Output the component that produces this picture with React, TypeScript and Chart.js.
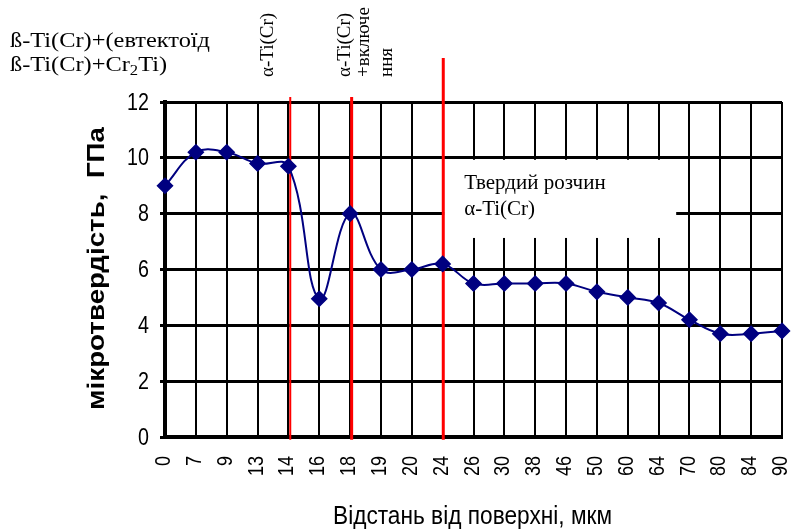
import React, { useEffect, useRef } from "react";
import { Chart, registerables } from "chart.js";
Chart.register(...registerables);

// ---- data ----
const distanceLabels = ["0", "7", "9", "13", "14", "16", "18", "19", "20", "24", "26", "30", "38", "46", "50", "60", "64", "70", "80", "84", "90"];
const hardnessValues = [9.0, 10.2, 10.2, 9.8, 9.7, 4.95, 8.0, 6.0, 6.0, 6.2, 5.5, 5.5, 5.5, 5.5, 5.2, 5.0, 4.8, 4.2, 3.7, 3.7, 3.8];
const yMin = 0;
const yMax = 12;
const yStep = 2;
// phase boundary lines (category index position, top value)
const boundaryIndex = [4.06, 6.05, 9.02];
const boundaryTop = [12.18, 12.18, 13.58];

const SANS = '"Liberation Sans", Arial, sans-serif';
const SERIF = '"Liberation Serif", "Times New Roman", serif';
const NARROW_K = 0.82;

function fitText(ctx: CanvasRenderingContext2D, text: string, x: number, y: number, width: number, font: string) {
  ctx.font = font;
  const w = ctx.measureText(text).width || 1;
  ctx.save();
  ctx.translate(x, y);
  ctx.scale(width / w, 1);
  ctx.textAlign = "left";
  ctx.fillText(text, 0, 0);
  ctx.restore();
}

const annotationPlugin = {
  id: "annotations",
  beforeDatasetsDraw(chart: any) {
    const { ctx, scales } = chart;
    const x = scales.x;
    const y = scales.y;
    ctx.save();
    // white text box
    const bx0 = x.getPixelForValue(9.05);
    const bx1 = x.getPixelForValue(16.57);
    const by0 = y.getPixelForValue(9.93);
    const by1 = y.getPixelForValue(7.13);
    ctx.fillStyle = "#ffffff";
    ctx.fillRect(bx0, by0, bx1 - bx0, by1 - by0);
    // red boundary lines
    ctx.strokeStyle = "#ff0000";
    boundaryIndex.forEach((v, i) => {
      const px = x.getPixelForValue(v);
      ctx.lineWidth = i === 0 ? 2 : 3;
      ctx.beginPath();
      ctx.moveTo(px, y.getPixelForValue(boundaryTop[i]));
      ctx.lineTo(px, y.getPixelForValue(-0.1));
      ctx.stroke();
    });
    ctx.restore();
  },
  afterDraw(chart: any) {
    const { ctx, scales } = chart;
    const x = scales.x;
    const y = scales.y;
    ctx.save();
    ctx.fillStyle = "#000";
    ctx.textBaseline = "alphabetic";

    // tick labels (narrow)
    ctx.font = `24px ${SANS}`;
    y.ticks.forEach((t: any) => {
      const py = y.getPixelForValue(t.value);
      ctx.save();
      ctx.translate(149, py + 1);
      ctx.scale(NARROW_K, 1);
      ctx.textAlign = "right";
      ctx.textBaseline = "middle";
      ctx.fillText(String(t.value), 0, 0);
      ctx.restore();
    });
    ctx.font = `22px ${SANS}`;
    distanceLabels.forEach((lab, i) => {
      const px = x.getPixelForValue(i);
      ctx.save();
      ctx.translate(px - 1, 456);
      ctx.rotate(-Math.PI / 2);
      ctx.scale(NARROW_K, 1);
      ctx.textAlign = "right";
      ctx.textBaseline = "middle";
      ctx.fillText(lab, 0, 0);
      ctx.restore();
    });

    // top-left annotation
    const f22 = `22px ${SERIF}`;
    ctx.font = f22;
    const l1 = "ß-Ti(Cr)+(евтектоїд";
    const k = 200 / ctx.measureText(l1).width;
    ctx.save();
    ctx.translate(10, 47);
    ctx.scale(k, 1);
    ctx.textAlign = "left";
    ctx.fillText(l1, 0, 0);
    let cx = 0;
    const l2a = "ß-Ti(Cr)+Cr";
    ctx.fillText(l2a, cx, 24);
    cx += ctx.measureText(l2a).width;
    ctx.font = `15px ${SERIF}`;
    ctx.fillText("2", cx, 28);
    cx += ctx.measureText("2").width;
    ctx.font = f22;
    ctx.fillText("Ti)", cx, 24);
    ctx.restore();

    // rotated annotations
    const rot = (text: string, bx: number, startY: number) => {
      ctx.save();
      ctx.translate(bx, startY);
      ctx.rotate(-Math.PI / 2);
      ctx.font = `19px ${SERIF}`;
      ctx.textAlign = "left";
      ctx.fillText(text, 0, 0);
      ctx.restore();
    };
    rot("α-Ti(Cr)", 273, 77);
    rot("α-Ti(Cr)", 350, 77);
    rot("+включе", 369, 77);
    rot("ння", 392, 77);

    // text in box
    const bx0 = x.getPixelForValue(9.05);
    const by0 = y.getPixelForValue(9.93);
    ctx.font = `21px ${SERIF}`;
    ctx.textAlign = "left";
    ctx.fillText("Твердий розчин", bx0 + 20, by0 + 29);
    ctx.fillText("α-Ti(Cr)", bx0 + 20, by0 + 55);

    // axis titles
    fitText(ctx, "Відстань від поверхні, мкм", 333, 524, 279, `26px ${SANS}`);
    ctx.save();
    ctx.translate(104, 410);
    ctx.rotate(-Math.PI / 2);
    fitText(ctx, "мікротвердість,  ГПа", 0, 0, 283, `bold 23px ${SANS}`);
    ctx.restore();
    ctx.restore();
  },
};

export default function App() {
  const ref = useRef<HTMLCanvasElement | null>(null);
  useEffect(() => {
    if (!ref.current) return;
    const chart = new Chart(ref.current, {
      type: "line",
      data: {
        labels: distanceLabels,
        datasets: [
          {
            data: hardnessValues,
            borderColor: "#000080",
            backgroundColor: "#000080",
            borderWidth: 2,
            tension: 0.4,
            pointStyle: "rectRot",
            pointRadius: 7.5,
            pointBorderWidth: 1.5,
            pointBackgroundColor: "#000080",
            pointBorderColor: "#000080",
          },
        ],
      },
      options: {
        responsive: false,
        animation: false,
        devicePixelRatio: 1,
        layout: { padding: { top: 102, right: 7, left: 0, bottom: 0 } },
        plugins: { legend: { display: false }, tooltip: { enabled: false } },
        scales: {
          x: {
            type: "category",
            offset: false,
            grid: { color: "#000", lineWidth: 2, drawTicks: false },
            border: { color: "#000", width: 4 },
            ticks: { display: false, autoSkip: false },
            afterFit: (s: any) => {
              s.height = 92;
              s.paddingLeft = 0;
              s.paddingRight = 0;
            },
          },
          y: {
            min: yMin,
            max: yMax,
            ticks: { stepSize: yStep, display: false },
            grid: { color: "#000", lineWidth: 3, tickLength: 5 },
            border: { color: "#000", width: 4 },
            afterFit: (s: any) => {
              s.width = 165;
              s.paddingTop = 0;
              s.paddingBottom = 0;
            },
          },
        },
      },
      plugins: [annotationPlugin],
    });
    return () => chart.destroy();
  }, []);
  return (
    <div style={{ position: "absolute", left: 0, top: 0, width: 791, height: 529, background: "#fff" }}>
      <canvas ref={ref} width={791} height={529} />
    </div>
  );
}
